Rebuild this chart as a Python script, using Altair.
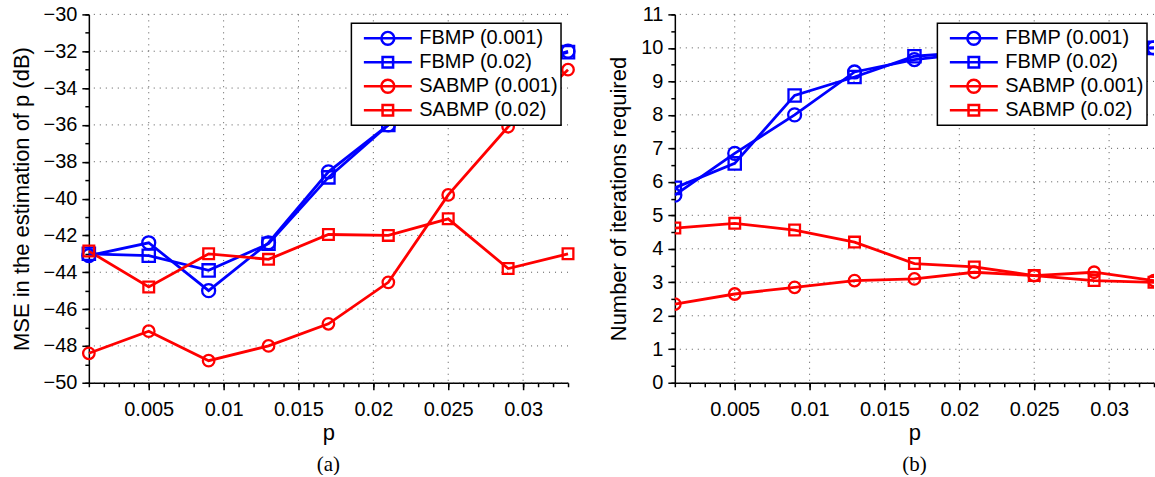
import altair as alt
import pandas as pd

# ---- data ----
p_values = [0.001, 0.005, 0.009, 0.013, 0.017, 0.021, 0.025, 0.029, 0.033]
series_names = ["FBMP (0.001)", "FBMP (0.02)", "SABMP (0.001)", "SABMP (0.02)"]
series_colors = ["#0000ff", "#0000ff", "#ff0000", "#ff0000"]
series_shapes = ["circle", "square", "circle", "square"]

mse_fbmp_001 = [-43.1, -42.4, -45.0, -42.4, -38.55, -36.0, -34.3, -33.0, -32.0]
mse_fbmp_02 = [-43.0, -43.1, -43.9, -42.45, -38.85, -36.0, -34.2, -33.0, -32.05]
mse_sabmp_001 = [-48.4, -47.2, -48.8, -48.0, -46.8, -44.55, -39.8, -36.1, -33.0]
mse_sabmp_02 = [-42.85, -44.8, -43.0, -43.3, -41.95, -42.0, -41.1, -43.8, -43.0]

iter_fbmp_001 = [5.6, 6.85, 8.0, 9.28, 9.65, 9.85, 9.9, 9.95, 10.0]
iter_fbmp_02 = [5.82, 6.55, 8.58, 9.13, 9.75, 9.88, 9.92, 9.96, 10.0]
iter_sabmp_001 = [2.35, 2.65, 2.85, 3.05, 3.1, 3.3, 3.2, 3.3, 3.05]
iter_sabmp_02 = [4.62, 4.76, 4.56, 4.2, 3.56, 3.46, 3.2, 3.05, 3.0]

x_major = [0.005, 0.01, 0.015, 0.02, 0.025, 0.03]
x_minor = [round(0.001 * i, 3) for i in range(1, 34)]
mse_major = list(range(-50, -29, 2))
mse_minor = list(range(-50, -29, 1))
iter_major = list(range(0, 12))
iter_minor = [i * 0.5 for i in range(0, 23)]

# legend symbols: line with marker (custom paths)
legend_paths = [
    "M-1,0H1M0.27,0A0.27,0.27,0,1,1,-0.27,0A0.27,0.27,0,1,1,0.27,0",
    "M-1,0H1M-0.22,-0.22H0.22V0.22H-0.22Z",
    "M-1,0H1M0.27,0A0.27,0.27,0,1,1,-0.27,0A0.27,0.27,0,1,1,0.27,0",
    "M-1,0H1M-0.22,-0.22H0.22V0.22H-0.22Z",
]
marker_sizes = [169, 115, 169, 115]


def long_df(values_list):
    rows = []
    for name, vals in zip(series_names, values_list):
        for p, v in zip(p_values, vals):
            rows.append({"p": p, "value": v, "series": name})
    return pd.DataFrame(rows)


FONT = "Liberation Sans"
GRID_COLOR = "#555555"


def panel(df, ytitle, ydomain, ymajor, yminor, caption, clip):
    base = alt.Chart(df)
    xscale = alt.Scale(domain=[0.001, 0.033], nice=False, zero=False)
    yscale = alt.Scale(domain=ydomain, nice=False, zero=False)
    color_scale = alt.Scale(domain=series_names, range=series_colors)

    major_x = alt.Axis(values=x_major, format="~g", tickSize=7, grid=False,
                       title="p", titleFontSize=22, titlePadding=3,
                       labelPadding=10, orient="bottom")
    major_y = alt.Axis(values=ymajor, format="~g", tickSize=7, grid=False,
                       title=ytitle, titleFontSize=22, titlePadding=10,
                       labelPadding=5, orient="left")
    minor_x = alt.Axis(values=x_minor, tickSize=4, grid=False, labels=False,
                       domain=False, title=None, orient="bottom")
    minor_y = alt.Axis(values=yminor, tickSize=4, grid=False, labels=False,
                       domain=False, title=None, orient="left")

    gridx = alt.Chart(pd.DataFrame({"g": x_major})).mark_rule(
        color=GRID_COLOR, strokeDash=[1, 5], strokeWidth=1
    ).encode(x=alt.X("g:Q", scale=xscale, axis=None))
    gridy = alt.Chart(pd.DataFrame({"g": ymajor})).mark_rule(
        color=GRID_COLOR, strokeDash=[1, 5], strokeWidth=1
    ).encode(y=alt.Y("g:Q", scale=yscale, axis=None))

    lines = base.mark_line(strokeWidth=2.8, clip=clip).encode(
        x=alt.X("p:Q", scale=xscale, axis=major_x),
        y=alt.Y("value:Q", scale=yscale, axis=major_y),
        color=alt.Color("series:N", scale=color_scale, legend=None),
        detail="series:N",
    )
    points = base.mark_point(filled=False, strokeWidth=2.3, opacity=1, clip=clip).encode(
        x=alt.X("p:Q", scale=xscale, axis=minor_x),
        y=alt.Y("value:Q", scale=yscale, axis=minor_y),
        color=alt.Color("series:N", scale=color_scale, legend=None),
        shape=alt.Shape("series:N", scale=alt.Scale(domain=series_names, range=series_shapes), legend=None),
        size=alt.Size("series:N", scale=alt.Scale(domain=series_names, range=marker_sizes), legend=None),
    )
    leg = alt.Legend(title=None, orient="none", legendX=263, legendY=9)
    legend_layer = base.mark_point(filled=False, opacity=0, clip=True).encode(
        x=alt.X("p:Q", scale=xscale, axis=None),
        y=alt.Y("value:Q", scale=yscale, axis=None),
        color=alt.Color("series:N", scale=color_scale, legend=leg),
        shape=alt.Shape("series:N", scale=alt.Scale(domain=series_names, range=legend_paths),
                        legend=leg),
    )
    return alt.layer(gridx, gridy, lines, points, legend_layer).resolve_scale(
        color="independent", shape="independent"
    ).resolve_axis(x="independent", y="independent").properties(
        width=480, height=369,
        title=alt.TitleParams(caption, orient="bottom", font="Liberation Serif",
                              fontSize=21, fontWeight="normal", color="black",
                              anchor="middle", offset=10),
    )


left = panel(long_df([mse_fbmp_001, mse_fbmp_02, mse_sabmp_001, mse_sabmp_02]),
             "MSE in the estimation of p (dB)", [-50, -30], mse_major, mse_minor, "(a)", False)
right = panel(long_df([iter_fbmp_001, iter_fbmp_02, iter_sabmp_001, iter_sabmp_02]),
              "Number of iterations required", [0, 11], iter_major, iter_minor, "(b)", True)

chart = alt.hconcat(left, right, spacing=27).resolve_scale(
    x="independent", y="independent", color="independent",
    shape="independent", size="independent"
).properties(
    padding={"left": 10, "top": 4, "right": 0, "bottom": 0}
).configure_view(stroke=None).configure_axis(
    labelFont=FONT, titleFont=FONT, labelFontSize=20, labelColor="black",
    titleColor="black", titleFontWeight="normal",
    domainColor="black", domainWidth=1.5, tickColor="black", tickWidth=1.5,
).configure_legend(
    labelFont=FONT, labelFontSize=20, labelColor="black", labelLimit=300,
    padding=3, strokeColor="black", strokeWidth=1.5,
    fillColor="white", cornerRadius=0, symbolSize=2304, symbolOffset=8,
    symbolStrokeWidth=2.5, symbolOpacity=1, clipHeight=24, rowPadding=0,
    labelOffset=6,
)

chart.save("out.html", embed_options={"renderer": "svg", "actions": False})
